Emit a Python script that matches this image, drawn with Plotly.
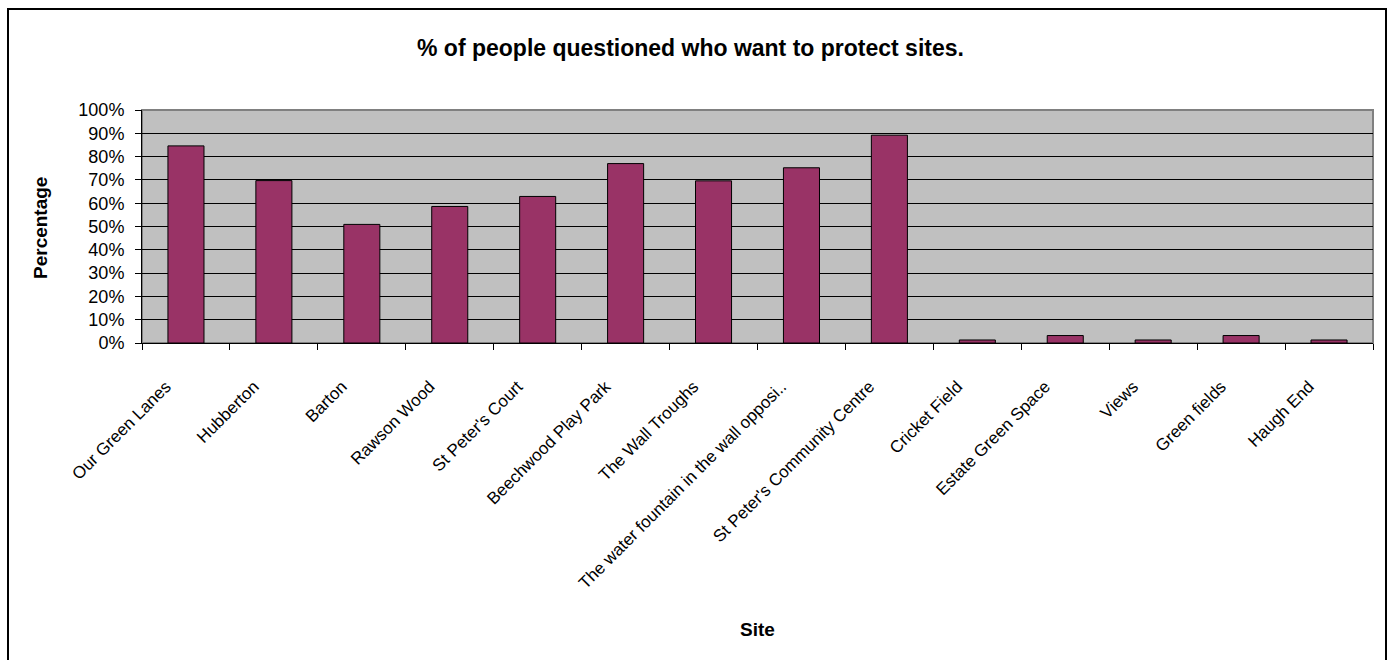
import plotly.graph_objects as go

sites = ["Our Green Lanes", "Hubberton", "Barton", "Rawson Wood", "St Peter's Court",
         "Beechwood Play Park", "The Wall Troughs", "The water fountain in the wall opposi..",
         "St Peter's Community Centre", "Cricket Field", "Estate Green Space", "Views",
         "Greenfields", "Haugh End"]
tick_labels = ["Our Green Lanes", "Hubberton", "Barton", "Rawson Wood", "St Peter's Court",
               "Beechwood Play Park", "The Wall Troughs", "The water fountain in the wall opposi..",
               "St Peter's Community Centre", "Cricket Field", "Estate Green Space", "Views",
               "Green fields", "Haugh End"]
percent = [0.846, 0.697, 0.509, 0.586, 0.629, 0.770, 0.696, 0.752, 0.892,
           0.013, 0.032, 0.013, 0.032, 0.013]

W, H = 1389, 660
L, R, T, B = 142, 16, 110, 317
pw = W - L - R
ph = H - T - B

def px(x):
    return (x - L) / pw

def py(y):
    return (H - B - y) / ph

FONT = "Liberation Sans, Arial, sans-serif"

fig = go.Figure()
fig.add_trace(go.Bar(
    x=sites, y=percent,
    marker=dict(color="#993366", line=dict(color="black", width=1)),
    hoverinfo="x+y",
))

fig.update_layout(
    width=W, height=H,
    margin=dict(l=L, r=R, t=T, b=B, autoexpand=False),
    paper_bgcolor="white",
    plot_bgcolor="#C0C0C0",
    bargap=0.59,
    showlegend=False,
    font=dict(family=FONT, color="black"),
    xaxis=dict(
        tickmode="array", tickvals=sites, ticktext=tick_labels,
        tickangle=-45, tickfont=dict(size=17, family=FONT),
        ticks="outside", ticklen=6, tickcolor="black", tickwidth=1,
        tickson="boundaries",
        showline=True, linecolor="black", linewidth=1,
        showgrid=False, ticklabelstandoff=26, ticklabelshift=-20,
    ),
    yaxis=dict(
        range=[0, 1], dtick=0.1, tickformat=".0%",
        tickfont=dict(size=18, family=FONT),
        ticks="outside", ticklen=6, tickcolor="black", tickwidth=1,
        showline=True, linecolor="black", linewidth=1,
        showgrid=True, gridcolor="black", gridwidth=1,
        zeroline=False, ticklabelstandoff=7,
    ),
    shapes=[
        dict(type="rect", xref="paper", yref="paper", x0=0, x1=1, y0=0, y1=1,
             line=dict(color="#808080", width=2), fillcolor="rgba(0,0,0,0)", layer="below"),
        dict(type="rect", xref="paper", yref="paper",
             x0=px(8), x1=px(1386), y0=py(670), y1=py(9),
             line=dict(color="black", width=2), fillcolor="rgba(0,0,0,0)"),
    ],
    annotations=[
        dict(text="<b>% of people questioned who want to protect sites.</b>",
             xref="paper", yref="paper", x=px(690), y=py(48),
             showarrow=False, font=dict(size=23, family=FONT), xanchor="center", yanchor="middle"),
        dict(text="<b>Percentage</b>", xref="paper", yref="paper", x=px(40), y=py(228),
             textangle=-90, showarrow=False, font=dict(size=19, family=FONT),
             xanchor="center", yanchor="middle"),
        dict(text="<b>Site</b>", xref="paper", yref="paper", x=px(757), y=py(629),
             showarrow=False, font=dict(size=19, family=FONT), xanchor="center", yanchor="middle"),
    ],
)

fig.write_html("out.html")
